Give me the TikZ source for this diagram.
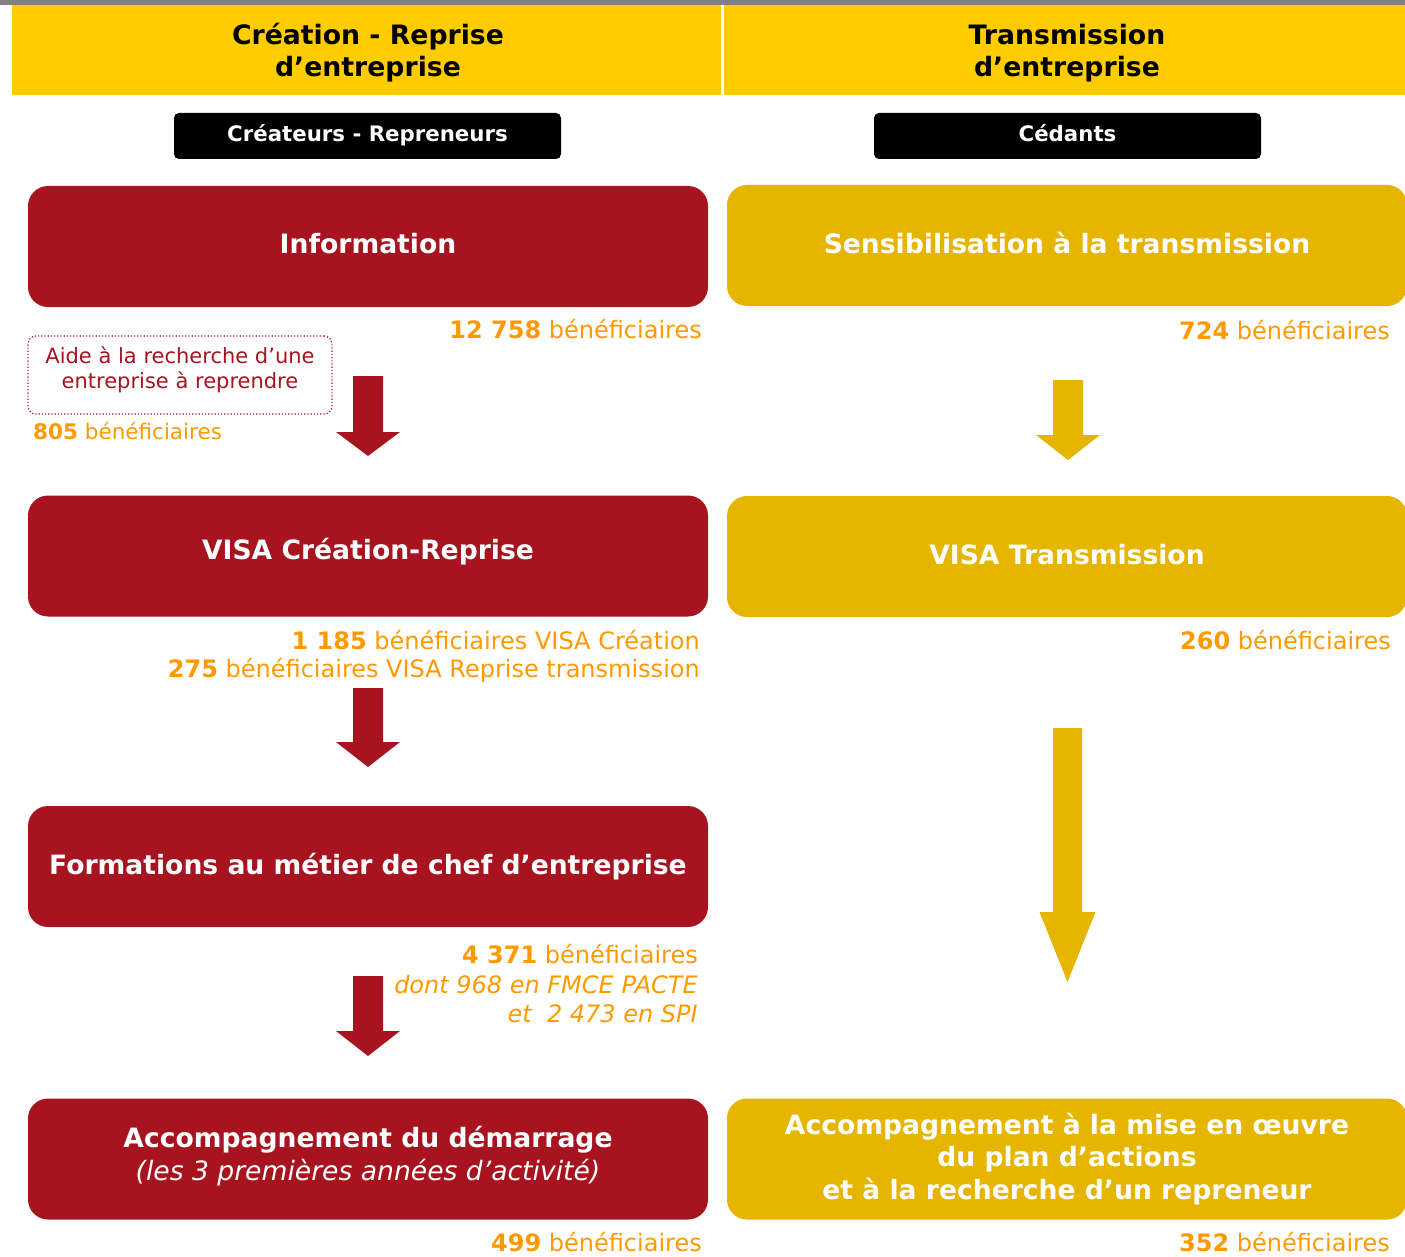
\documentclass[tikz,border=0pt]{standalone}
\usepackage{fontspec}
\setmainfont{DejaVu Sans}
\definecolor{hdr}{RGB}{255,204,0}
\definecolor{crimson}{RGB}{168,19,32}
\definecolor{gold}{RGB}{230,181,0}
\definecolor{orng}{RGB}{255,153,0}
\definecolor{topgray}{RGB}{128,128,128}
\newcommand\blockarrow[7]{%
  \fill[#1] ({#2-#6},#3) -- ({#2+#6},#3) -- ({#2+#6},#4) -- ({#2+#7},#4) -- (#2,#5) -- ({#2-#7},#4) -- ({#2-#6},#4) -- cycle;}
\tikzset{
  hdrbox/.style={fill=hdr, inner sep=0pt, minimum height=90pt, align=center, font=\fontsize{26.7}{32}\selectfont\bfseries},
  tagbox/.style={fill=black, text=white, rounded corners=5pt, minimum width=387pt, minimum height=46pt, inner sep=0pt, text height=15.5pt, text depth=4.5pt, font=\fontsize{21.3}{24}\selectfont\bfseries},
  redbox/.style={fill=crimson, text=white, rounded corners=20pt, minimum width=680pt, minimum height=121pt, inner sep=0pt, align=center, font=\fontsize{26.6}{32.5}\selectfont\bfseries},
  goldbox/.style={redbox, fill=gold},
  cnt/.style={text=orng, inner sep=0pt, align=right, font=\fontsize{24}{28}\selectfont},
  dotbox/.style={draw=crimson, dotted, line width=1.2pt, rounded corners=8pt, minimum width=304pt, minimum height=78pt, inner sep=0pt},
  dottext/.style={text=crimson, align=center, inner sep=0pt, font=\fontsize{21}{25}\selectfont},
}
\begin{document}
\begin{tikzpicture}[x=1pt,y=-1pt]
\useasboundingbox (0,0) rectangle (1405,1257);
\fill[topgray] (0,0) rectangle (1405,5);
% headers
\node[hdrbox, minimum width=709pt] (hL) at (366.5,50) {};
\node[hdrbox, minimum width=681pt] (hR) at (1064.5,50) {};
\node[hdrbox, fill=none, minimum height=0pt] (hLt) at (368,53) {Création - Reprise\\d’entreprise};
\node[hdrbox, fill=none, minimum height=0pt] (hRt) at (1067,53) {Transmission\\d’entreprise};
% tags
\node[tagbox] (tL) at (367.5,136) {Créateurs - Repreneurs};
\node[tagbox] (tR) at (1067.5,136) {Cédants};
% left column
\node[redbox] (r1) at (368,246.5) {};
\node[redbox, fill=none, minimum height=0pt] (r1t) at (368,244) {Information};
\node[redbox] (r2) at (368,556) {};
\node[redbox, fill=none, minimum height=0pt] (r2t) at (368,552) {VISA Création-Reprise};
\node[redbox] (r3) at (368,866.5) {Formations au métier de chef d’entreprise};
\node[redbox] (r4) at (368,1159) {};
\node[redbox, fill=none, minimum height=0pt] (r4t) at (368,1156) {Accompagnement du démarrage\\{\normalfont\itshape (les 3 premières années d’activité)}};
% right column
\node[goldbox] (g1) at (1067,245.5) {};
\node[goldbox, fill=none, minimum height=0pt] (g1t) at (1067,243.5) {Sensibilisation à la transmission};
\node[goldbox] (g2) at (1067,556.5) {};
\node[goldbox, fill=none, minimum height=0pt] (g2t) at (1067,554.5) {VISA Transmission};
\node[goldbox] (g4) at (1067,1159) {Accompagnement à la mise en œuvre\\du plan d’actions\\et à la recherche d’un repreneur};
% dotted box
\node[dotbox] (aide) at (180,375) {};
\node[dottext] (aidet) at (180,369.5) {Aide à la recherche d’une\\entreprise à reprendre};
% counts
\node[cnt, anchor=east] (c1) at (702,329) {{\bfseries 12~758} bénéficiaires};
\node[cnt, anchor=east] (c2) at (1390,330) {{\bfseries 724} bénéficiaires};
\node[cnt, anchor=west, font=\fontsize{21.5}{26}\selectfont] (c3) at (33,431) {{\bfseries 805} bénéficiaires};
\node[cnt, anchor=east] (c4) at (700,656) {{\bfseries 1~185} bénéficiaires VISA Création\\{\bfseries 275} bénéficiaires VISA Reprise transmission};
\node[cnt, anchor=east] (c5) at (1391,640) {{\bfseries 260} bénéficiaires};
\node[cnt, anchor=east, font=\fontsize{24}{29.5}\selectfont] (c6) at (698,984) {{\bfseries 4~371} bénéficiaires\\{\itshape dont 968 en FMCE PACTE}\\{\itshape et~~2~473 en SPI}};
\node[cnt, anchor=east] (c7) at (702,1242) {{\bfseries 499} bénéficiaires};
\node[cnt, anchor=east] (c8) at (1390,1242) {{\bfseries 352} bénéficiaires};
% arrows
\blockarrow{crimson}{368}{376}{432}{456}{15}{32}
\blockarrow{crimson}{368}{688}{742}{767}{15}{32}
\blockarrow{crimson}{368}{976}{1031}{1056}{15}{32}
\blockarrow{gold}{1068}{380}{435}{460}{15}{32}
\blockarrow{gold}{1067.5}{728}{912}{982}{14.5}{28}
\end{tikzpicture}
\end{document}
